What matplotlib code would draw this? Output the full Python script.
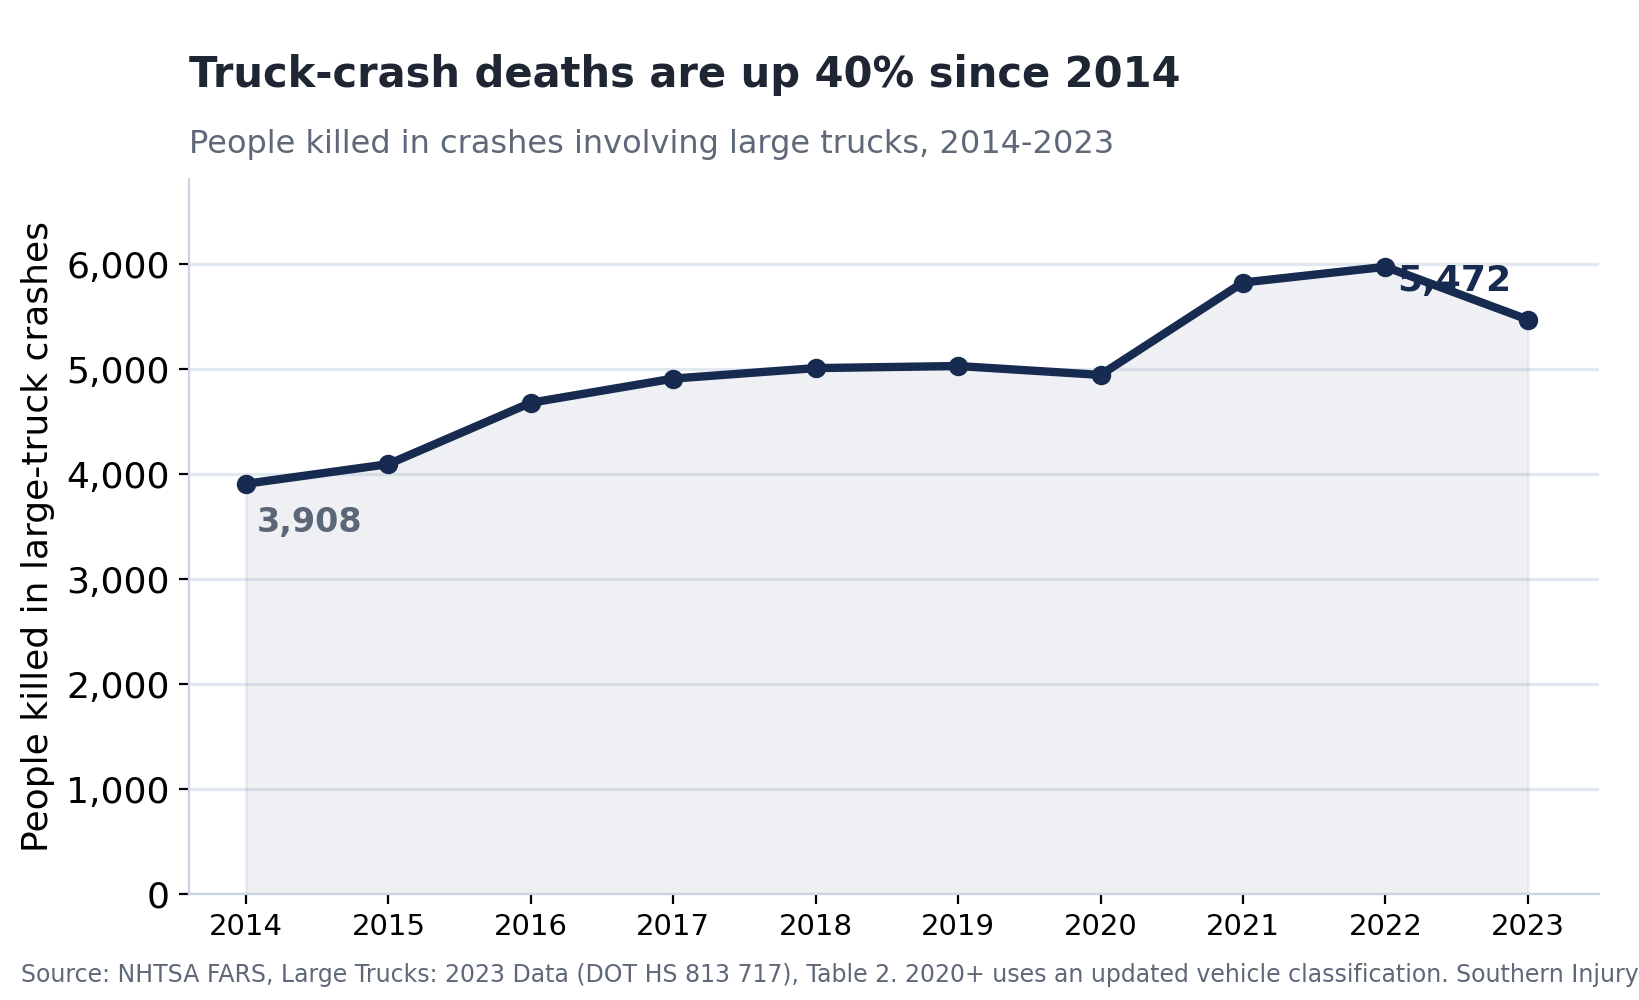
import matplotlib.pyplot as plt
from matplotlib.ticker import FuncFormatter

# people killed in crashes involving large trucks
years = [2014, 2015, 2016, 2017, 2018, 2019, 2020, 2021, 2022, 2023]
deaths = [3908, 4095, 4680, 4910, 5010, 5030, 4945, 5825, 5975, 5472]

NAVY = '#172a4f'
GRAY = '#5b6676'

fig = plt.figure(figsize=(8.195, 5), dpi=200)
ax = fig.add_axes([0.1153, 0.106, 0.8603, 0.715])

ax.fill_between(years, deaths, 0, color='#64748b', alpha=0.1, linewidth=1, zorder=1)
ax.plot(years, deaths, color=NAVY, lw=3, marker='o', markersize=6, zorder=4)

ax.set_xlim(2013.6, 2023.5)
ax.set_ylim(0, max(deaths) * 1.14)
ax.set_xticks(years)
ax.set_yticks(range(0, 7000, 1000))
ax.yaxis.set_major_formatter(FuncFormatter(lambda v, p: f'{int(v):,}'))
ax.tick_params(axis='y', labelsize=13)
ax.tick_params(axis='x', labelsize=10.5)
ax.grid(axis='y', color='#e2e8f0', lw=1.2)
ax.set_axisbelow(True)

for s in ['top', 'right']:
    ax.spines[s].set_visible(False)
for s in ['left', 'bottom']:
    ax.spines[s].set_color('#cbd5e1')

ax.set_ylabel('People killed in large-truck crashes', fontsize=13)
ax.yaxis.set_label_coords(-0.095, 0.5)

# callouts for first and last value
ax.annotate(f'{deaths[0]:,}', xy=(years[0], deaths[0]), xytext=(4, -14),
            textcoords='offset points', ha='left', va='center',
            fontsize=12, fontweight='bold', color=GRAY, zorder=2)
ax.annotate(f'{deaths[-1]:,}', xy=(years[-1], deaths[-1]), xytext=(-6, 14),
            textcoords='offset points', ha='right', va='center',
            fontsize=13, fontweight='bold', color=NAVY, zorder=2)

fig.text(0.1153, 0.925, 'Truck-crash deaths are up 40% since 2014',
         fontsize=15, fontweight='bold', color='#1e2533', va='center')
fig.text(0.1153, 0.856, 'People killed in crashes involving large trucks, 2014-2023',
         fontsize=11.5, color='#5e6878', va='center')
fig.text(0.013, 0.025, 'Source: NHTSA FARS, Large Trucks: 2023 Data (DOT HS 813 717), Table 2. '
         '2020+ uses an updated vehicle classification. Southern Injury',
         fontsize=8.5, color='#5e6878', va='center')

fig.savefig('out.png', dpi=200)
